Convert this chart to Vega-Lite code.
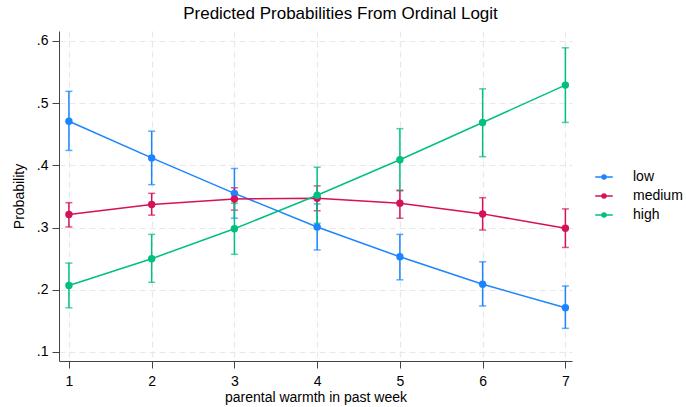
{
  "$schema": "https://vega.github.io/schema/vega-lite/v6.json",
  "width": 513,
  "height": 330,
  "autosize": {"type": "none"},
  "padding": {"left": 59, "top": 31, "right": 114, "bottom": 46},
  "background": "white",
  "title": {"text": "Predicted Probabilities From Ordinal Logit", "font": "Liberation Sans", "fontSize": 17, "fontWeight": "normal", "color": "#000", "anchor": "middle", "dx": 25, "offset": 8},
  "config": {
    "font": "Liberation Sans",
    "view": {"stroke": null},
    "axis": {"labelFont": "Liberation Sans", "titleFont": "Liberation Sans", "labelFontSize": 14, "titleFontSize": 14, "titleFontWeight": "normal", "labelColor": "#000", "titleColor": "#000", "domainColor": "#444", "tickColor": "#444", "gridColor": "#e8e8e8", "gridDash": [6, 4], "gridWidth": 1.2}
  },
  "data": {"values": [
    {"x": 1, "cat": "low", "p": 0.471, "lo": 0.424, "hi": 0.519},
    {"x": 2, "cat": "low", "p": 0.412, "lo": 0.369, "hi": 0.455},
    {"x": 3, "cat": "low", "p": 0.355, "lo": 0.315, "hi": 0.395},
    {"x": 4, "cat": "low", "p": 0.301, "lo": 0.264, "hi": 0.338},
    {"x": 5, "cat": "low", "p": 0.253, "lo": 0.216, "hi": 0.289},
    {"x": 6, "cat": "low", "p": 0.209, "lo": 0.174, "hi": 0.245},
    {"x": 7, "cat": "low", "p": 0.171, "lo": 0.138, "hi": 0.206},
    {"x": 1, "cat": "medium", "p": 0.321, "lo": 0.301, "hi": 0.340},
    {"x": 2, "cat": "medium", "p": 0.337, "lo": 0.320, "hi": 0.355},
    {"x": 3, "cat": "medium", "p": 0.346, "lo": 0.328, "hi": 0.364},
    {"x": 4, "cat": "medium", "p": 0.347, "lo": 0.327, "hi": 0.367},
    {"x": 5, "cat": "medium", "p": 0.339, "lo": 0.315, "hi": 0.360},
    {"x": 6, "cat": "medium", "p": 0.322, "lo": 0.296, "hi": 0.348},
    {"x": 7, "cat": "medium", "p": 0.299, "lo": 0.268, "hi": 0.330},
    {"x": 1, "cat": "high", "p": 0.207, "lo": 0.171, "hi": 0.243},
    {"x": 2, "cat": "high", "p": 0.250, "lo": 0.212, "hi": 0.289},
    {"x": 3, "cat": "high", "p": 0.298, "lo": 0.257, "hi": 0.339},
    {"x": 4, "cat": "high", "p": 0.352, "lo": 0.307, "hi": 0.397},
    {"x": 5, "cat": "high", "p": 0.409, "lo": 0.359, "hi": 0.459},
    {"x": 6, "cat": "high", "p": 0.469, "lo": 0.414, "hi": 0.523},
    {"x": 7, "cat": "high", "p": 0.529, "lo": 0.469, "hi": 0.589}
  ]},
  "encoding": {
    "x": {"field": "x", "type": "quantitative", "scale": {"domain": [0.88, 7.08], "nice": false, "zero": false},
      "axis": {"values": [1, 2, 3, 4, 5, 6, 7], "title": "parental warmth in past week", "tickSize": 7, "labelPadding": 6, "titlePadding": 2, "grid": true, "format": "d"}},
    "color": {"field": "cat", "type": "nominal", "scale": {"domain": ["low", "medium", "high"], "range": ["#1a85ff", "#d41159", "#00bf7f"]},
      "legend": {"title": null, "orient": "none", "legendX": 534, "legendY": 135, "labelFontSize": 14, "labelFont": "Liberation Sans", "labelColor": "#000", "rowPadding": 1,
        "symbolType": "M-0.875,0H0.875M-0.2,0A0.2,0.2,0,1,1,0.2,0A0.2,0.2,0,1,1,-0.2,0Z", "symbolSize": 400, "symbolStrokeWidth": 1.5, "labelOffset": 18,
        "encode": {"symbols": {"update": {"fill": {"scale": "color", "field": "value"}, "fillOpacity": {"value": 1}}}}}}
  },
  "layer": [
    {"mark": {"type": "line", "strokeWidth": 1.5},
     "encoding": {"y": {"field": "p", "type": "quantitative", "title": "Probability", "scale": {"domain": [0.0855, 0.616], "nice": false, "zero": false},
       "axis": {"values": [0.1, 0.2, 0.3, 0.4, 0.5, 0.6], "labelExpr": "replace(format(datum.value, '.1f'), '0.', '.')", "title": "Probability", "tickSize": 7, "labelPadding": 4, "titlePadding": 10, "grid": true}}}},
    {"mark": {"type": "errorbar", "ticks": {"size": 7}, "thickness": 1.5},
     "encoding": {"y": {"field": "lo", "type": "quantitative", "title": "Probability"}, "y2": {"field": "hi"}}},
    {"mark": {"type": "point", "filled": true, "size": 55, "opacity": 1},
     "encoding": {"y": {"field": "p", "type": "quantitative", "title": "Probability"}}}
  ]
}
